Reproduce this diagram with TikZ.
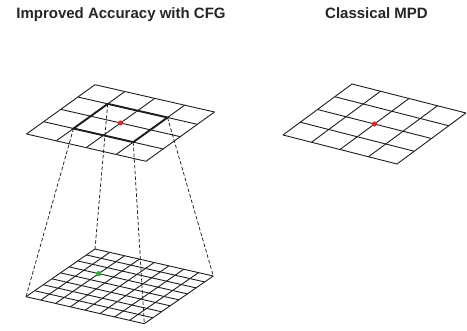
\documentclass[tikz,border=0pt]{standalone}
\usepackage{fontspec}
\setmainfont{Liberation Sans}
\usetikzlibrary{calc}
\definecolor{gridcol}{HTML}{1E1E1E}
\definecolor{dotred}{HTML}{D42A2A}
\definecolor{dotgreen}{HTML}{2FAE3A}
\tikzset{
  title/.style={font=\fontsize{15}{17}\selectfont\bfseries, text=black!85, inner sep=0pt, anchor=base},
  gridline/.style={draw=gridcol, line width=0.9pt},
  boldline/.style={draw=gridcol, line width=1.9pt, line join=miter},
  proj/.style={draw=gridcol, line width=0.75pt, dash pattern=on 3.5pt off 2.2pt},
  reddot/.style={fill=dotred},
  greendot/.style={fill=dotgreen}
}
\begin{document}
\begin{tikzpicture}
\useasboundingbox (0,0) rectangle (467pt,-331pt);
\fill[white] (0,0) rectangle (467pt,-331pt);

% titles
\node[title] (t1) at (121pt,-18.7pt) {Improved Accuracy with CFG};
\node[title] (t2) at (376.5pt,-18.7pt) {Classical MPD};

% top-left coarse grid (4x4)
\begin{scope}[shift={(95pt,-84.7pt)}, x={(29.875pt,-6.825pt)}, y={(-17.125pt,-12.325pt)}]
  \foreach \i in {0,...,4} {
    \draw[gridline] (\i,0) -- (\i,4);
    \draw[gridline] (0,\i) -- (4,\i);
  }
  \draw[boldline] (1,1) -- (3,1) -- (3,3) -- (1,3) -- cycle;
  \coordinate (K11) at (1,1);
  \coordinate (K31) at (3,1);
  \coordinate (K13) at (1,3);
  \coordinate (K33) at (3,3);
  \coordinate (Cc) at (2,2);
\end{scope}

% bottom fine grid (8x8)
\begin{scope}[shift={(95pt,-249pt)}, x={(14.7875pt,-3.375pt)}, y={(-8.625pt,-5.9625pt)}]
  \foreach \i in {0,...,8} {
    \draw[gridline] (\i,0) -- (\i,8);
    \draw[gridline] (0,\i) -- (8,\i);
  }
  \coordinate (B00) at (0,0);
  \coordinate (B80) at (8,0);
  \coordinate (B08) at (0,8);
  \coordinate (B88) at (8,8);
  \coordinate (Fc) at (2,3);
\end{scope}

% projection lines
\draw[proj] (K11) -- (B00);
\draw[proj] (K31) -- (B80);
\draw[proj] (K13) -- (B08);
\draw[proj] (K33) -- (B88);

% right grid (4x4)
\begin{scope}[shift={(352pt,-84pt)}, x={(28.5pt,-7.25pt)}, y={(-17.25pt,-12.75pt)}]
  \foreach \i in {0,...,4} {
    \draw[gridline] (\i,0) -- (\i,4);
    \draw[gridline] (0,\i) -- (4,\i);
  }
  \coordinate (Rc) at (2,2);
\end{scope}

% dots
\fill[reddot] (Cc) circle (2.6pt);
\fill[greendot] (Fc) circle (2.6pt);
\fill[reddot] (Rc) circle (2.6pt);
\end{tikzpicture}
\end{document}
